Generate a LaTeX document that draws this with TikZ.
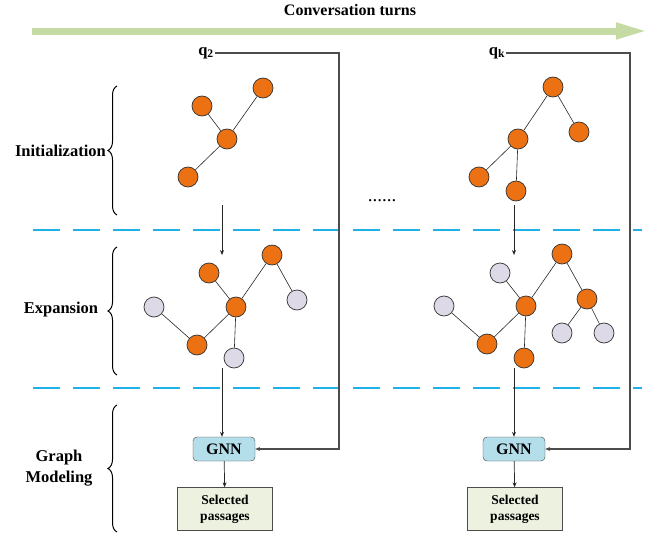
\documentclass[tikz,border=0pt]{standalone}
\usepackage{fontspec}
\setmainfont{Liberation Serif}
\usetikzlibrary{decorations.pathreplacing,arrows.meta}
\definecolor{myorange}{RGB}{235,113,18}
\definecolor{mylilac}{RGB}{221,217,231}
\definecolor{mygreen}{RGB}{197,219,163}
\definecolor{mydashblue}{RGB}{30,178,230}
\definecolor{myboxblue}{RGB}{180,222,234}
\definecolor{myboxgreen}{RGB}{236,241,224}

\begin{document}
\begin{tikzpicture}[x=1pt,y=-1pt,
    onode/.style={circle,draw=black!80,fill=myorange,minimum size=20pt,inner sep=0pt,line width=0.7pt},
    lnode/.style={onode,fill=mylilac},
    edge/.style={black!85,line width=0.6pt},
    qline/.style={black!70,line width=1.1pt},
    flow/.style={black!85,line width=0.7pt,-{Stealth[length=5pt,width=4pt]}},
    sep/.style={mydashblue,line width=1.3pt,dash pattern=on 27pt off 13pt},
    stage/.style={decorate,decoration={brace,amplitude=9pt},line width=1pt},
    lab/.style={font=\fontsize{16.5}{21}\selectfont\bfseries},
    gnnbox/.style={draw=black!75,fill=myboxblue,rounded corners=4pt,minimum width=62pt,minimum height=24pt,font=\fontsize{16}{18}\selectfont\bfseries},
    passbox/.style={draw=black!70,fill=myboxgreen,minimum width=95pt,minimum height=43pt,align=center,font=\fontsize{13.5}{16}\selectfont\bfseries}]
    \useasboundingbox (0,0) rectangle (657,538);
    % time axis
    \node[lab,font=\fontsize{16}{18}\selectfont\bfseries] (title) at (350,10) {Conversation turns};
    \coordinate (t0) at (32,31);
    \coordinate (t1) at (648,31);
    \draw[mygreen,line width=7pt,-{Triangle[length=32pt,width=15pt]}] (t0) -- (t1);
    % separators
    \draw[sep] (33,230) -- (642,230);
    \draw[sep] (33,388) -- (642,388);
    % stages
    \draw[stage] (117,215) -- (117,86);
    \draw[stage] (117,375) -- (117,247);
    \draw[stage] (117,532) -- (117,405);
    \node[lab,anchor=east,inner sep=1pt] (init) at (107,151) {Initialization};
    \node[lab] (expa) at (61,310) {Expansion};
    \node[lab,align=center] (gmod) at (59,468) {Graph\\Modeling};
    \node[font=\fontsize{19}{20}\selectfont] (dots) at (382,201) {......};

    % turn 2: initialization
    \node[onode] (a1) at (263,88) {};
    \node[onode] (a2) at (202,106) {};
    \node[onode] (a3) at (227,139) {};
    \node[onode] (a4) at (188,177) {};
    \foreach \u/\v in {a2/a3,a3/a1,a3/a4}
        \draw[edge] (\u) -- (\v);
    % turn 2: expansion
    \node[onode] (b1) at (209,273) {};
    \node[onode] (b2) at (272,255) {};
    \node[onode] (b3) at (236,307) {};
    \node[lnode] (b4) at (297,300) {};
    \node[lnode] (b5) at (154,307) {};
    \node[onode] (b6) at (197,345) {};
    \node[lnode] (b7) at (234,358) {};
    \foreach \u/\v in {b1/b3,b3/b2,b2/b4,b3/b6,b6/b5,b3/b7}
        \draw[edge] (\u) -- (\v);
    % turn 2: graph modeling
    \node[gnnbox] (gnn1) at (224,449) {GNN};
    \node[passbox] (pas1) at (225,509) {Selected\\passages};
    \node[lab,inner sep=1pt] (q2) at (206,53) {q\textsubscript{2}};
    \coordinate (c1) at (339,53);
    \coordinate (d1) at (222,205);
    \coordinate (d2) at (222,255);
    \coordinate (d3) at (222,368);
    \draw[qline,-{Stealth[length=5pt,width=4pt]}] (q2.east) -- (c1) |- (gnn1.east);
    \draw[flow] (d1) -- (d2);
    \draw[flow] (d3) -- (d3 |- gnn1.north);
    \draw[flow] (gnn1) -- (pas1);

    % turn k: initialization
    \node[onode] (r1) at (553,87) {};
    \node[onode] (r2) at (579,132) {};
    \node[onode] (r3) at (518,139) {};
    \node[onode] (r4) at (479,177) {};
    \node[onode] (r5) at (516,191) {};
    \foreach \u/\v in {r1/r3,r1/r2,r3/r4,r3/r5}
        \draw[edge] (\u) -- (\v);
    % turn k: expansion
    \node[lnode] (s1) at (500,273) {};
    \node[onode] (s2) at (562,254) {};
    \node[onode] (s3) at (526,306) {};
    \node[onode] (s4) at (587,299) {};
    \node[lnode] (s5) at (444,306) {};
    \node[onode] (s6) at (487,344) {};
    \node[onode] (s7) at (524,358) {};
    \node[lnode] (s8) at (562,333) {};
    \node[lnode] (s9) at (604,333) {};
    \foreach \u/\v in {s1/s3,s3/s2,s2/s4,s4/s8,s4/s9,s3/s6,s6/s5,s3/s7}
        \draw[edge] (\u) -- (\v);
    % turn k: graph modeling
    \node[gnnbox] (gnn2) at (514,449) {GNN};
    \node[passbox] (pas2) at (515,509) {Selected\\passages};
    \node[lab,inner sep=1pt] (qk) at (497,53) {q\textsubscript{k}};
    \coordinate (c2) at (630,53);
    \coordinate (e1) at (514,205);
    \coordinate (e2) at (514,255);
    \coordinate (e3) at (514,368);
    \draw[qline,-{Stealth[length=5pt,width=4pt]}] (qk.east) -- (c2) |- (gnn2.east);
    \draw[flow] (e1) -- (e2);
    \draw[flow] (e3) -- (e3 |- gnn2.north);
    \draw[flow] (gnn2) -- (pas2);
\end{tikzpicture}
\end{document}
